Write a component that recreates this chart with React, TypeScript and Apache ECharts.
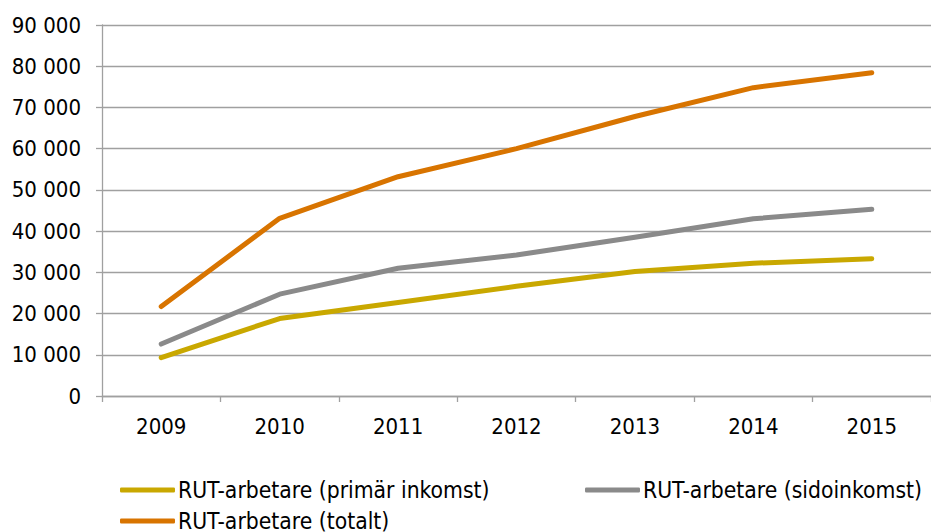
import React, { useEffect, useRef } from "react";
import * as echarts from "echarts";

const years = ["2009", "2010", "2011", "2012", "2013", "2014", "2015"];
const primar = [9300, 18800, 22700, 26600, 30200, 32200, 33300];
const sido = [12600, 24700, 31000, 34200, 38500, 43000, 45300];
const totalt = [21700, 43100, 53200, 60000, 67800, 74800, 78400];
const seriesNames = [
  "RUT-arbetare (primär inkomst)",
  "RUT-arbetare (sidoinkomst)",
  "RUT-arbetare (totalt)",
];
const colors = ["#C9A800", "#8A8A8A", "#D87400"];

const FONT = "'DejaVu Sans Condensed', 'DejaVu Sans', sans-serif";

export default function App() {
  const ref = useRef<HTMLDivElement>(null);
  useEffect(() => {
    if (!ref.current) return;
    const chart = echarts.init(ref.current, undefined, { renderer: "svg" });
    const values = [primar, sido, totalt];
    const legendText = {
      color: "#000",
      fontSize: 22.7,
      fontFamily: FONT,
      lineHeight: 26,
      padding: [0, 0, 0, -2],
    };
    const legendBase = {
      padding: 0,
      itemWidth: 55,
      itemHeight: 5,
      icon: "roundRect",
      textStyle: legendText,
    };
    chart.setOption({
      animation: false,
      backgroundColor: "#fff",
      grid: { left: 102, top: 25, width: 840, height: 371 },
      legend: [
        { ...legendBase, data: [seriesNames[0]], left: 120, top: 477 },
        { ...legendBase, data: [seriesNames[1]], left: 585, top: 477 },
        { ...legendBase, data: [seriesNames[2]], left: 120, top: 508 },
      ],
      xAxis: {
        type: "category",
        data: years,
        boundaryGap: true,
        axisLine: { lineStyle: { color: "#A0A0A0", width: 1.3 } },
        axisTick: { show: true, length: 6, lineStyle: { color: "#A0A0A0", width: 1.3 } },
        axisLabel: { color: "#000", fontSize: 22, fontFamily: FONT, margin: 19 },
      },
      yAxis: {
        type: "value",
        min: 0,
        max: 90000,
        interval: 10000,
        axisLine: { show: true, lineStyle: { color: "#A0A0A0", width: 1.3 } },
        axisTick: { show: true, length: 6, lineStyle: { color: "#A0A0A0", width: 1.3 } },
        splitLine: { show: true, lineStyle: { color: "#A0A0A0", width: 1.3 } },
        axisLabel: {
          color: "#000",
          fontSize: 22,
          fontFamily: FONT,
          margin: 21,
          formatter: (v: number) => (v === 0 ? "0" : `${v / 1000} 000`),
        },
      },
      series: seriesNames.map((name, i) => ({
        name,
        type: "line",
        data: values[i],
        symbol: "none",
        color: colors[i],
        lineStyle: { color: colors[i], width: 5, cap: "round", join: "round" },
      })),
    });
    return () => chart.dispose();
  }, []);
  return (
    <div
      ref={ref}
      style={{ position: "absolute", left: 0, top: 0, width: 931, height: 532 }}
    />
  );
}
